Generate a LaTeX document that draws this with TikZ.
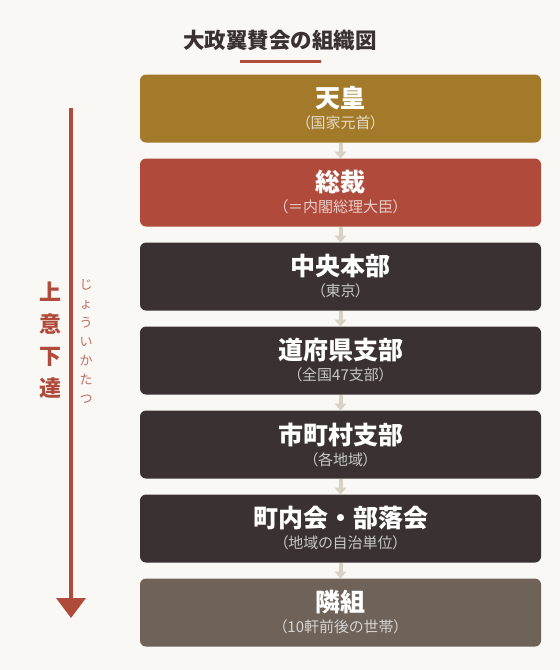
\documentclass[tikz,border=0pt]{standalone}
\usepackage{fontspec}
\setmainfont{Noto Sans CJK JP}
\usetikzlibrary{positioning,arrows.meta}
\definecolor{bg}{HTML}{F9F8F5}
\definecolor{gold}{HTML}{A27A2A}
\definecolor{rust}{HTML}{B04B3C}
\definecolor{ink}{HTML}{3A3232}
\definecolor{taupe}{HTML}{6E6259}
\definecolor{linkcol}{HTML}{D8D2C6}
\newcommand{\boxmain}[1]{{\bfseries\fontsize{25}{25}\selectfont #1}}
\newcommand{\boxsub}[2]{{\addfontfeatures{RawFeature=+palt}\fontsize{15}{15}\selectfont\color{white!72!#1}#2}}

\begin{document}
\begin{tikzpicture}[x=1pt, y=-1pt, node distance=16pt,
    main/.style={fill=#1, rounded corners=6pt, text=white, minimum width=401pt, minimum height=68pt, inner sep=0pt, outer sep=0pt, align=center, font=\fontsize{15}{21}\selectfont},
    link/.style={draw=linkcol, line width=4pt, -{Triangle[width=12pt,length=7pt]}}]
    \fill[bg] (0,0) rectangle (560,670);
    \useasboundingbox (0,0) rectangle (560,670);
    \node[font=\bfseries\fontsize{21.5}{21.5}\selectfont, text=ink] (title) at (280,40) {大政翼賛会の組織図};
    \draw[rust, line width=3pt] (240,61) -- (321,61);
    \node[main=gold] (1) at (340.5,108.5) {\boxmain{天皇}\\\boxsub{gold}{（国家元首）}};
    \node[main=rust] (2) [below=of 1] {\boxmain{総裁}\\\boxsub{rust}{（＝内閣総理大臣）}};
    \node[main=ink] (3) [below=of 2] {\boxmain{中央本部}\\\boxsub{ink}{（東京）}};
    \node[main=ink] (4) [below=of 3] {\boxmain{道府県支部}\\\boxsub{ink}{（全国47支部）}};
    \node[main=ink] (5) [below=of 4] {\boxmain{市町村支部}\\\boxsub{ink}{（各地域）}};
    \node[main=ink] (6) [below=of 5] {\boxmain{町内会・部落会}\\\boxsub{ink}{（地域の自治単位）}};
    \node[main=taupe] (7) [below=of 6] {\boxmain{隣組}\\\boxsub{taupe}{（10軒前後の世帯）}};
    \draw[link] (1) -- (2);
    \draw[link] (2) -- (3);
    \draw[link] (3) -- (4);
    \draw[link] (4) -- (5);
    \draw[link] (5) -- (6);
    \draw[link] (6) -- (7);
    \coordinate (top) at (71,108);
    \coordinate (end) at (71,618);
    \draw[rust, line width=4pt, -{Triangle[width=29pt,length=20pt]}] (top) -- (end);
    \node[text=rust, font=\bfseries\fontsize{22}{32}\selectfont, align=center] (order) at (50,340) {上\\意\\下\\達};
    \node[text=rust!80!white, font=\fontsize{13}{19}\selectfont, align=center] (ruby) at (86,341) {じ\\ょ\\う\\い\\か\\た\\つ};
\end{tikzpicture}
\end{document}
